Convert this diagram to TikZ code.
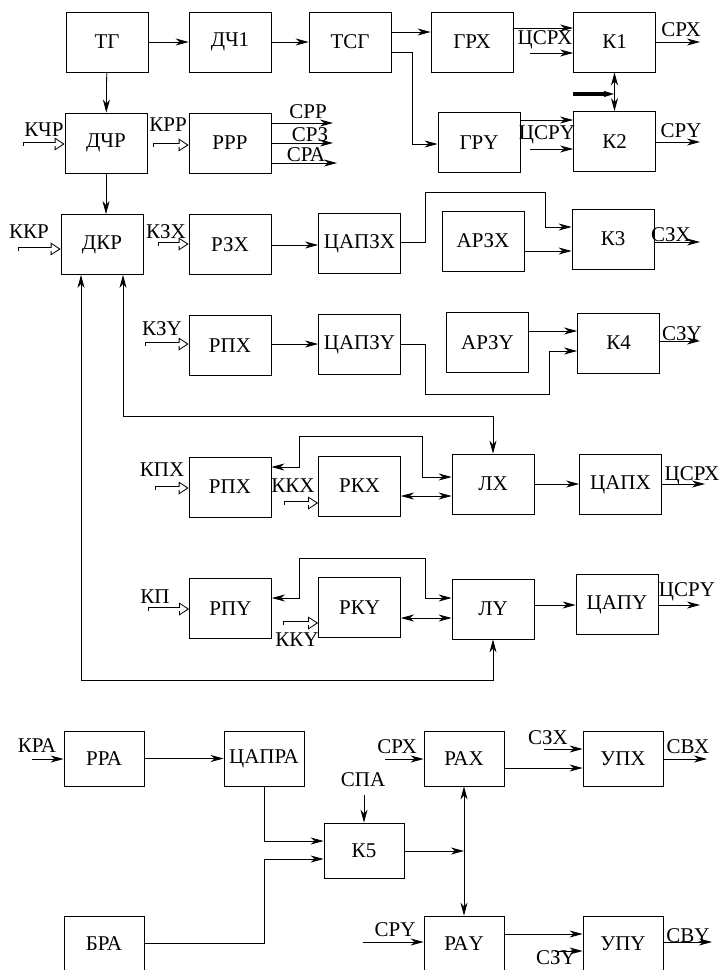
\documentclass[tikz,border=0pt]{standalone}
\usepackage{fontspec}
\setmainfont{Liberation Serif}
\usetikzlibrary{arrows.meta}

\begin{document}
\begin{tikzpicture}[x=1pt, y=-1pt, line width=0.8pt, font=\fontsize{21}{23}\selectfont]
  % Styles
  \tikzstyle{blk}=[rectangle, draw, minimum width=82pt, minimum height=60pt, inner sep=0pt]
  \tikzstyle{sblk}=[rectangle, draw, minimum width=80pt, minimum height=55pt, inner sep=0pt]
  \tikzstyle{lbl}=[inner sep=0pt]
  \tikzstyle{arr}=[-{Stealth[length=13pt, width=7pt, inset=4pt]}]
  \tikzstyle{darr}=[{Stealth[length=13pt, width=7pt, inset=4pt]}-{Stealth[length=13pt, width=7pt, inset=4pt]}]
  \tikzstyle{hol}=[line width=4.6pt, -{Triangle[length=10pt, width=13pt, line width=0pt]},
    postaction={draw=white, line width=3pt, shorten <=0.8pt, shorten >=1.9pt,
      -{Triangle[length=7pt, width=9.4pt, line width=0pt]}}]
  \tikzstyle{thk}=[line width=3.2pt, -{Stealth[length=10pt, width=6pt, inset=2pt]}]

  \clip (0,0) rectangle (720,970);

  % Generator part
  \node[blk] (tg) at (107,42) {ТГ};
  \node[blk] (dch1) at (230,42) {ДЧ1};
  \node[blk] (tsg) at (350,42) {ТСГ};
  \node[blk] (grx) at (472,42) {ГРХ};
  \node[blk] (k1) at (614.5,42) {К1};
  \node[blk] (gry) at (479,142.5) {ГРY};
  \node[blk] (k2) at (614.5,141.5) {К2};
  \node[blk] (dchr) at (106,143) {ДЧР};
  \node[blk] (rrr) at (230,143) {РРР};

  \draw[arr] (tg) -- (dch1);
  \draw[arr] (dch1) -- (tsg);
  \draw[arr] (tsg.east |- 0,32) -- (grx.west |- 0,32);
  \draw[arr] (tsg.east |- 0,52) -- (412,52) |- (gry.west |- 0,144);
  \draw[arr] (grx.east |- 0,28) -- (k1.west |- 0,28);
  \draw[arr] (gry.east |- 0,120) -- (k2.west |- 0,120);
  \coordinate (csrxin) at (530,53);
  \coordinate (csryin) at (530,149);
  \draw[arr] (csrxin) -- (k1.west |- csrxin);
  \draw[arr] (csryin) -- (k2.west |- csryin);
  \node[lbl] (lcsrx) at (545,40) {ЦСРХ};
  \node[lbl] (lcsry) at (547,135) {ЦСРY};
  \coordinate (srxout) at (700,42);
  \coordinate (sryout) at (700,142);
  \draw[arr] (k1.east |- srxout) -- (srxout);
  \draw[arr] (k2.east |- sryout) -- (sryout);
  \node[lbl] (lsrx) at (681,30) {СРХ};
  \node[lbl] (lsry) at (681,131) {СРY};
  \draw[darr] (k1) -- (k2);
  \coordinate (thkin) at (573,94);
  \coordinate (thkend) at (614,94);
  \draw[thk] (thkin) -- (thkend);

  \draw[arr] (tg) -- (dchr);
  \coordinate (kchrin) at (23,144);
  \draw[hol] (kchrin) -- (dchr.west |- kchrin);
  \node[lbl] (lkchr) at (44,130) {КЧР};
  \coordinate (krrin) at (153,145);
  \draw[hol] (krrin) -- (rrr.west |- krrin);
  \node[lbl] (lkrr) at (168,125) {КРР};
  \coordinate (srrout) at (333,123);
  \coordinate (srzout) at (333,143);
  \coordinate (sraout) at (337,163);
  \draw[arr] (rrr.east |- srrout) -- (srrout);
  \draw[arr] (rrr.east |- srzout) -- (srzout);
  \draw[arr] (rrr.east |- sraout) -- (sraout);
  \node[lbl] (lsrr) at (308,112) {СРР};
  \node[lbl] (lsrz) at (310,135) {СРЗ};
  \node[lbl] (lsra) at (306,155) {СРА};

  % Scan part
  \node[blk] (dkr) at (102,244.5) {ДКР};
  \node[blk] (rzx) at (230,244.5) {РЗХ};
  \node[blk] (capzx) at (359.5,243.5) {ЦАПЗХ};
  \node[blk] (arzx) at (483,241) {АРЗХ};
  \node[blk] (k3) at (613,239) {К3};
  \node[blk] (rpx1) at (230,345.5) {РПХ};
  \node[blk] (capzy) at (359.5,344.5) {ЦАПЗY};
  \node[blk] (arzy) at (487.5,342.5) {АРЗY};
  \node[blk] (k4) at (618.5,343) {К4};

  \draw[arr] (dchr.south) -- (dchr.south |- dkr.north);
  \coordinate (kkrin) at (18,249);
  \draw[hol] (kkrin) -- (dkr.west |- kkrin);
  \node[lbl] (lkkr) at (29,232) {ККР};
  \coordinate (kzxin) at (158,244);
  \draw[hol] (kzxin) -- (rzx.west |- kzxin);
  \node[lbl] (lkzx) at (166,232) {КЗХ};
  \draw[arr] (rzx.east |- 0,245) -- (capzx.west |- 0,245);
  \draw[arr] (capzx.east |- 0,242) -- (425,242) -- (425,192) -- (545,192) -- (545,227) -- (k3.west |- 0,227);
  \draw[arr] (arzx.east |- 0,251) -- (k3.west |- 0,251);
  \coordinate (szxout) at (700,242);
  \draw[arr] (k3.east |- szxout) -- (szxout);
  \node[lbl] (lszx) at (671,235) {СЗХ};

  \coordinate (kzyin) at (145,344);
  \draw[hol] (kzyin) -- (rpx1.west |- kzyin);
  \node[lbl] (lkzy) at (162,329) {КЗY};
  \draw[arr] (rpx1.east |- 0,344) -- (capzy.west |- 0,344);
  \draw[arr] (capzy.east |- 0,344) -- (425,344) -- (425,394) -- (549,394) -- (549,351) -- (k4.west |- 0,351);
  \draw[arr] (arzy.east |- 0,331) -- (k4.west |- 0,331);
  \coordinate (szyout) at (700,341);
  \draw[arr] (k4.east |- szyout) -- (szyout);
  \node[lbl] (lszy) at (682,334) {СЗY};

  % Counters
  \node[blk] (rpx2) at (230,487) {РПХ};
  \node[blk] (rkx) at (359.5,486) {РКХ};
  \node[blk] (lx) at (493,484) {ЛХ};
  \node[blk] (capx) at (620.5,484.5) {ЦАПХ};
  \node[blk] (rpy) at (230.5,608.5) {РПY};
  \node[blk] (rky) at (359.5,607.5) {РКY};
  \node[blk] (ly) at (493,609) {ЛY};
  \node[blk] (capy) at (617,604.5) {ЦАПY};

  \draw[darr] (dkr.south -| 81,0) -- (81,680) -- (493,680) -- (ly.south);
  \draw[darr] (dkr.south -| 123,0) -- (123,416) -- (493,416) -- (lx.north);

  \draw[darr] (rpx2.east |- 0,467) -- (299,467) -- (299,436) -- (422,436) -- (422,477) -- (lx.west |- 0,477);
  \draw[darr] (rkx.east |- 0,496) -- (lx.west |- 0,496);
  \coordinate (kkxin) at (284,503);
  \draw[hol] (kkxin) -- (rkx.west |- kkxin);
  \node[lbl] (lkkx) at (293,486) {ККХ};
  \coordinate (kpxin) at (155,488);
  \draw[hol] (kpxin) -- (rpx2.west |- kpxin);
  \node[lbl] (lkpx) at (162,470) {КПХ};
  \draw[arr] (lx) -- (capx.west |- lx);
  \coordinate (csrxout) at (705,484);
  \draw[arr] (capx.east |- csrxout) -- (csrxout);
  \node[lbl] (lcsrx2) at (692,476) {ЦСРХ};

  \draw[darr] (rpy.east |- 0,598) -- (299,598) -- (299,558) -- (425,558) -- (425,598) -- (ly.west |- 0,598);
  \draw[darr] (rky.east |- 0,618) -- (ly.west |- 0,618);
  \coordinate (kkyin) at (283,623);
  \draw[hol] (kkyin) -- (rky.west |- kkyin);
  \node[lbl] (lkky) at (297,640) {ККY};
  \coordinate (kpyin) at (148,609);
  \draw[hol] (kpyin) -- (rpy.west |- kpyin);
  \node[lbl] (lkpy) at (155,597) {КП};
  \draw[arr] (ly.east |- 0,605) -- (capy.west |- 0,605);
  \coordinate (csryout) at (700,605);
  \draw[arr] (capy.east |- csryout) -- (csryout);
  \node[lbl] (lcsry2) at (687,592) {ЦСРY};

  % Amplitude part
  \node[sblk] (rra) at (104,758.5) {РРА};
  \node[sblk] (capra) at (264,758.5) {ЦАПРА};
  \node[sblk] (bra) at (104,943.5) {БРА};
  \node[sblk] (k5) at (364,850.5) {К5};
  \node[sblk] (rax) at (464,758.5) {РАХ};
  \node[sblk] (upx) at (623,758.5) {УПХ};
  \node[sblk] (ray) at (464,943.5) {РАY};
  \node[sblk] (upy) at (623,943.5) {УПY};

  \coordinate (krain) at (32,759);
  \draw[arr] (krain) -- (rra.west |- krain);
  \node[lbl] (lkra) at (37,746) {КРА};
  \draw[arr] (rra) -- (capra);
  \draw[arr] (capra.south) |- (k5.west |- 0,841);
  \draw[arr] (bra.east |- 0,943) -- (264,943) |- (k5.west |- 0,859);
  \coordinate (spain) at (364,795);
  \draw[arr] (spain) -- (k5.north);
  \node[lbl] (lspa) at (363,780) {СПА};
  \coordinate (junc) at (464,851);
  \draw[arr] (k5.east |- junc) -- (junc);
  \draw[darr] (rax.south) -- (ray.north);

  \coordinate (srxin) at (385,759);
  \draw[arr] (srxin) -- (rax.west |- srxin);
  \node[lbl] (lsrx2) at (397,747) {СРХ};
  \draw[arr] (rax.east |- 0,768) -- (upx.west |- 0,768);
  \coordinate (szxin) at (544,749);
  \draw[arr] (szxin) -- (upx.west |- szxin);
  \node[lbl] (lszx2) at (548,738) {СЗХ};
  \coordinate (svxout) at (707,759);
  \draw[arr] (upx.east |- svxout) -- (svxout);
  \node[lbl] (lsvx) at (688,747) {СВХ};

  \coordinate (sryin) at (363,942);
  \draw[arr] (sryin) -- (ray.west |- sryin);
  \node[lbl] (lsry2) at (395,930) {СРY};
  \draw[arr] (ray.east |- 0,934) -- (upy.west |- 0,934);
  \coordinate (szyin) at (555,951);
  \draw[arr] (szyin) -- (upy.west |- szyin);
  \node[lbl] (lszy2) at (556,958) {СЗY};
  \coordinate (svyout) at (712,942);
  \draw[arr] (upy.east |- svyout) -- (svyout);
  \node[lbl] (lsvy) at (688,936) {СВY};
\end{tikzpicture}
\end{document}
